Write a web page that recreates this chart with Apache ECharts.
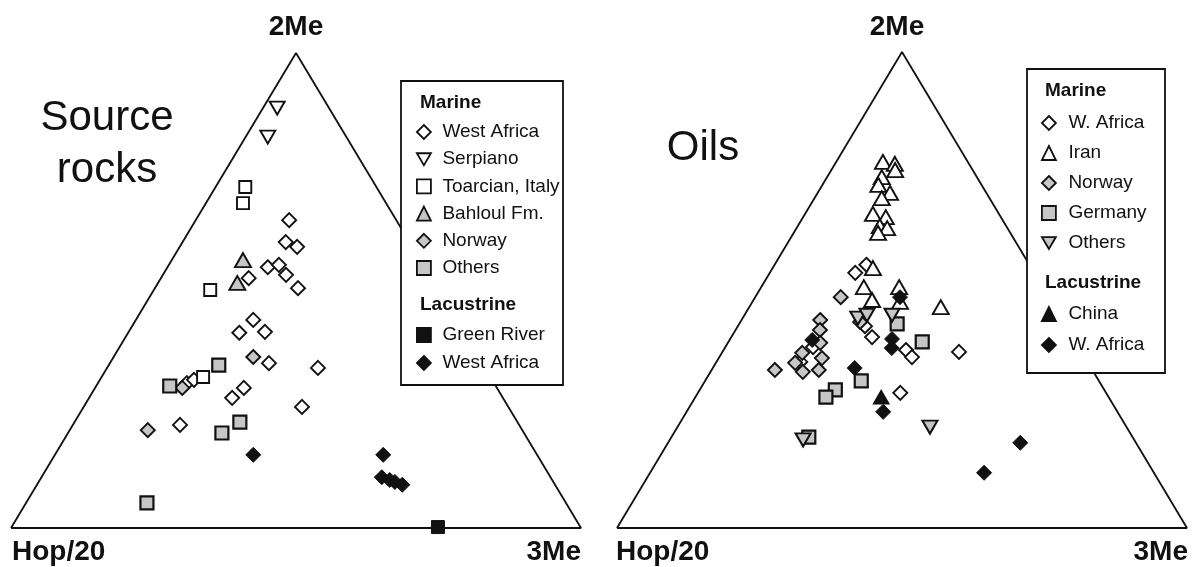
<!DOCTYPE html>
<html>
<head>
<meta charset="utf-8">
<script src="https://cdn.jsdelivr.net/npm/echarts@6/dist/echarts.min.js"></script>
<style>
  html, body { margin: 0; padding: 0; background: #fff; }
  #chart { width: 1192px; height: 567px; }
</style>
</head>
<body>
<div id="chart"></div>
<script>
// every point is [2Me %, 3Me %]; Hop/20 is what is left to 100
const rockWestAfrica = [
  [64.8, 16.4], [60.2, 18.1], [59.2, 20.6], [54.9, 17.6], [55.4, 19.3], [53.3, 21.6],
  [52.6, 15.4], [50.5, 25.1], [43.8, 20.6], [41.1, 19.5], [41.3, 23.9], [34.7, 27.9],
  [33.7, 37.0], [30.5, 15.6], [31.2, 16.5], [27.4, 25.1], [29.5, 26.1], [25.5, 38.3],
  [21.7, 18.8]
];
const rockSerpiano = [[88.4, 2.5], [82.3, 3.9]];
const rockToarcian = [[71.8, 5.2], [68.4, 6.5], [50.1, 9.9], [31.8, 17.8]];
const rockBahloul = [[56.4, 12.5], [51.6, 13.9]];
const rockNorway = [[36.0, 24.5], [29.5, 15.3], [20.6, 13.7]];
const rockOthers = [[34.3, 19.3], [29.9, 12.9], [20.0, 27.0], [22.3, 29.0], [5.3, 21.2]];
const rockGreenRiver = [[0.2, 74.8]];
const rockLacWestAfrica = [
  [15.4, 34.8], [15.4, 57.6], [10.7, 59.7], [10.1, 61.4], [9.7, 62.5], [9.1, 64.1]
];

const oilWAfrica = [
  [53.6, 15.0], [55.3, 16.1], [40.1, 24.7], [37.4, 32.0], [35.9, 33.8], [37.0, 41.5],
  [28.4, 35.5], [42.4, 22.3], [38.0, 15.4], [34.9, 14.7]
];
const oilIran = [
  [76.9, 8.2], [76.5, 10.5], [75.2, 11.2], [73.7, 9.6], [72.1, 9.8], [70.4, 12.7],
  [69.3, 11.8], [66.0, 11.9], [65.3, 14.5], [63.4, 14.4], [63.0, 15.9], [62.0, 14.8],
  [54.6, 17.6], [50.6, 18.0], [47.9, 20.8], [50.6, 24.2], [47.5, 25.9], [46.4, 33.6]
];
const oilNorway = [
  [48.5, 15.0], [43.7, 13.8], [41.6, 14.8], [38.9, 16.2], [35.7, 18.1], [33.2, 18.8],
  [32.8, 16.2], [34.7, 13.9], [36.8, 14.1], [33.2, 11.1], [43.3, 21.0]
];
const oilGermany = [[42.9, 27.7], [39.1, 34.0], [30.9, 27.4], [29.0, 23.8], [27.5, 22.9], [19.1, 24.1]];
const oilOthers = [[44.1, 20.2], [44.7, 21.5], [44.7, 25.9], [21.2, 44.3], [18.5, 23.4]];
const oilChina = [[27.5, 32.6]];
const oilLacWAfrica = [
  [48.5, 25.4], [39.7, 28.4], [37.8, 29.3], [33.6, 24.9], [24.4, 34.5], [17.9, 61.8],
  [11.6, 58.6], [39.5, 14.5]
];

// triangle corners: Hop/20, 2Me, 3Me, back to Hop/20
const corners = [[0, 0], [100, 0], [0, 100], [0, 0]];

const FONT = '"Liberation Sans", Arial, sans-serif';
const INK = '#111';
const GREY = '#c6c6c6';

// ternary -> plot units (2Me up, 3Me to the right)
const toXY = p => [p[1] + p[0] / 2, p[0]];

const DOWN = 'path://M0,0L20,0L10,17Z';
const open = w => ({ color: '#fff', borderColor: INK, borderWidth: w, opacity: 1 });
const grey = w => ({ color: GREY, borderColor: INK, borderWidth: w, opacity: 1 });
const black = { color: INK, borderColor: INK, borderWidth: 1, opacity: 1 };
const styles = {
  openDiamond: { symbol: 'diamond', symbolSize: 14, itemStyle: open(1.9) },
  openSquare: { symbol: 'rect', symbolSize: 12, itemStyle: open(1.9) },
  openUp: { symbol: 'triangle', symbolSize: [16, 14], itemStyle: open(1.9) },
  openDown: { symbol: DOWN, symbolSize: [15, 13], itemStyle: open(1.9) },
  greyUp: { symbol: 'triangle', symbolSize: [16, 14], itemStyle: grey(1.9) },
  greyDown: { symbol: DOWN, symbolSize: [15, 13], itemStyle: grey(2) },
  greyDiamond: { symbol: 'diamond', symbolSize: 14, itemStyle: grey(1.9) },
  greySquare: { symbol: 'rect', symbolSize: 13, itemStyle: grey(2.2) },
  blackSquare: { symbol: 'rect', symbolSize: 13, itemStyle: black },
  blackDiamond: { symbol: 'diamond', symbolSize: 15, itemStyle: black },
  blackUp: { symbol: 'triangle', symbolSize: [16, 14], itemStyle: black }
};

// legend label for each series name (names have to be unique)
const labels = {};
const scatter = (name, label, grid, data, style) => {
  labels[name] = label;
  return Object.assign({
    name: name,
    type: 'scatter',
    xAxisIndex: grid, yAxisIndex: grid,
    data: data.map(toXY),
    z: 3
  }, styles[style]);
};

const outline = grid => ({
  type: 'line',
  xAxisIndex: grid, yAxisIndex: grid,
  data: corners.map(c => [c[1] + c[0] / 2, c[0]]),
  symbol: 'none',
  silent: true,
  lineStyle: { color: INK, width: 1.8 },
  z: 1
});

const series = [
  outline(0),
  scatter('r-wa', 'West Africa', 0, rockWestAfrica, 'openDiamond'),
  scatter('r-serp', 'Serpiano', 0, rockSerpiano, 'openDown'),
  scatter('r-toar', 'Toarcian, Italy', 0, rockToarcian, 'openSquare'),
  scatter('r-bah', 'Bahloul Fm.', 0, rockBahloul, 'greyUp'),
  scatter('r-nor', 'Norway', 0, rockNorway, 'greyDiamond'),
  scatter('r-oth', 'Others', 0, rockOthers, 'greySquare'),
  scatter('r-gr', 'Green River', 0, rockGreenRiver, 'blackSquare'),
  scatter('r-lwa', 'West Africa', 0, rockLacWestAfrica, 'blackDiamond'),
  outline(1),
  scatter('o-wa', 'W. Africa', 1, oilWAfrica, 'openDiamond'),
  scatter('o-iran', 'Iran', 1, oilIran, 'openUp'),
  scatter('o-nor', 'Norway', 1, oilNorway, 'greyDiamond'),
  scatter('o-ger', 'Germany', 1, oilGermany, 'greySquare'),
  scatter('o-oth', 'Others', 1, oilOthers, 'greyDown'),
  scatter('o-chi', 'China', 1, oilChina, 'blackUp'),
  scatter('o-lwa', 'W. Africa', 1, oilLacWAfrica, 'blackDiamond')
];

const legend = (names, left, top, gap, textGap) => ({
  data: names,
  orient: 'vertical',
  left: left, top: top,
  padding: 0,
  itemWidth: 14, itemHeight: 14,
  itemGap: gap,
  selectedMode: false,
  itemStyle: { borderWidth: 1.8 },
  formatter: n => labels[n],
  textStyle: { fontFamily: FONT, fontSize: 19, lineHeight: 19, color: INK, padding: [0, 0, 0, textGap] },
  z: 6
});

const text = (str, x, y, size, bold, align) => ({
  type: 'text',
  x: x, y: y, z: 7,
  style: {
    text: str, fill: INK,
    font: (bold ? 'bold ' : '') + size + 'px ' + FONT,
    textAlign: align || 'left', textVerticalAlign: 'middle'
  }
});

const box = (x, y, w, h) => ({
  type: 'rect', z: 5,
  shape: { x: x, y: y, width: w, height: h },
  style: { fill: '#fff', stroke: INK, lineWidth: 1.8 }
});

const chart = echarts.init(document.getElementById('chart'));
chart.setOption({
  animation: false,
  backgroundColor: '#fff',
  grid: [
    { left: 11, top: 53, width: 570, height: 475 },
    { left: 617, top: 52, width: 570, height: 476 }
  ],
  xAxis: [0, 1].map(i => ({ type: 'value', gridIndex: i, min: 0, max: 100, show: false })),
  yAxis: [0, 1].map(i => ({ type: 'value', gridIndex: i, min: 0, max: 100, show: false })),
  legend: [
    legend(['r-wa', 'r-serp', 'r-toar', 'r-bah', 'r-nor', 'r-oth'], 416, 122.5, 8.2, 6.5),
    legend(['r-gr', 'r-lwa'], 416, 325.5, 9, 6.5),
    legend(['o-wa', 'o-iran', 'o-nor', 'o-ger', 'o-oth'], 1041, 113.5, 11, 7.5),
    legend(['o-chi', 'o-lwa'], 1041, 304.5, 12, 7.5)
  ],
  graphic: [
    box(401, 81, 162, 304),
    box(1027, 69, 138, 304),
    text('Marine', 420, 103, 19, true),
    text('Lacustrine', 420, 305, 19, true),
    text('Marine', 1045, 91, 19, true),
    text('Lacustrine', 1045, 283, 19, true),
    text('2Me', 296, 27, 28, true, 'center'),
    text('Hop/20', 12, 552, 28, true),
    text('3Me', 581, 552, 28, true, 'right'),
    text('2Me', 897, 27, 28, true, 'center'),
    text('Hop/20', 616, 552, 28, true),
    text('3Me', 1188, 552, 28, true, 'right'),
    text('Source', 107, 118, 42, false, 'center'),
    text('rocks', 107, 170, 42, false, 'center'),
    text('Oils', 703, 148, 42, false, 'center')
  ],
  series: series
});
</script>
</body>
</html>
